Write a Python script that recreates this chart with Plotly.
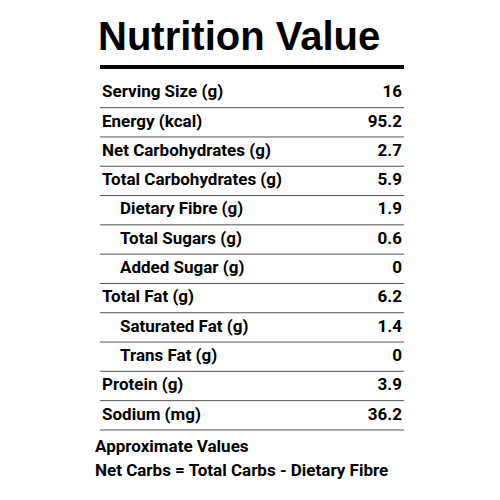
import plotly.graph_objects as go

labels = ["Serving Size (g)", "Energy (kcal)", "Net Carbohydrates (g)", "Total Carbohydrates (g)",
          "Dietary Fibre (g)", "Total Sugars (g)", "Added Sugar (g)", "Total Fat (g)",
          "Saturated Fat (g)", "Trans Fat (g)", "Protein (g)", "Sodium (mg)"]
values = ["16", "95.2", "2.7", "5.9", "1.9", "0.6", "0", "6.2", "1.4", "0", "3.9", "36.2"]
indented = [False, False, False, False, True, True, True, False, True, True, False, False]
title = "Nutrition Value"
footer = ["Approximate Values", "Net Carbs = Total Carbs - Dietary Fibre"]

FONT = "Roboto"
row0, step = 93, 29.3
ys = [row0 + i * step for i in range(len(labels))]
xs = [120 if ind else 102 for ind in indented]
tf = dict(family=FONT, size=17, color="black", weight="bold")

fig = go.Figure()
fig.add_trace(go.Scatter(x=xs, y=ys, mode="text", text=labels, textposition="middle right",
                         textfont=tf, hoverinfo="skip"))
fig.add_trace(go.Scatter(x=[402] * len(values), y=ys, mode="text", text=values,
                         textposition="middle left", textfont=tf, hoverinfo="skip"))
fig.add_trace(go.Scatter(x=[95, 95], y=[448, 472], mode="text", text=footer,
                         textposition="middle right", textfont=tf, hoverinfo="skip"))
fig.add_trace(go.Scatter(x=[98], y=[40], mode="text", text=[title], textposition="middle right",
                         textfont=dict(family="Liberation Sans, Arial", size=40, color="black",
                                       weight="bold"),
                         hoverinfo="skip"))

shapes = [dict(type="line", x0=100, x1=404, y0=67, y1=67, line=dict(color="black", width=4))]
for i in range(len(labels)):
    y = ys[i] + step / 2
    shapes.append(dict(type="line", x0=100, x1=404, y0=y, y1=y, line=dict(color="#555", width=1)))
fig.update_layout(
    width=500, height=500, margin=dict(l=0, r=0, t=0, b=0),
    plot_bgcolor="white", paper_bgcolor="white", showlegend=False, shapes=shapes,
    xaxis=dict(range=[8, 508], visible=False, fixedrange=True),
    yaxis=dict(range=[508, 8], visible=False, fixedrange=True),
)
fig.write_html("out.html")
